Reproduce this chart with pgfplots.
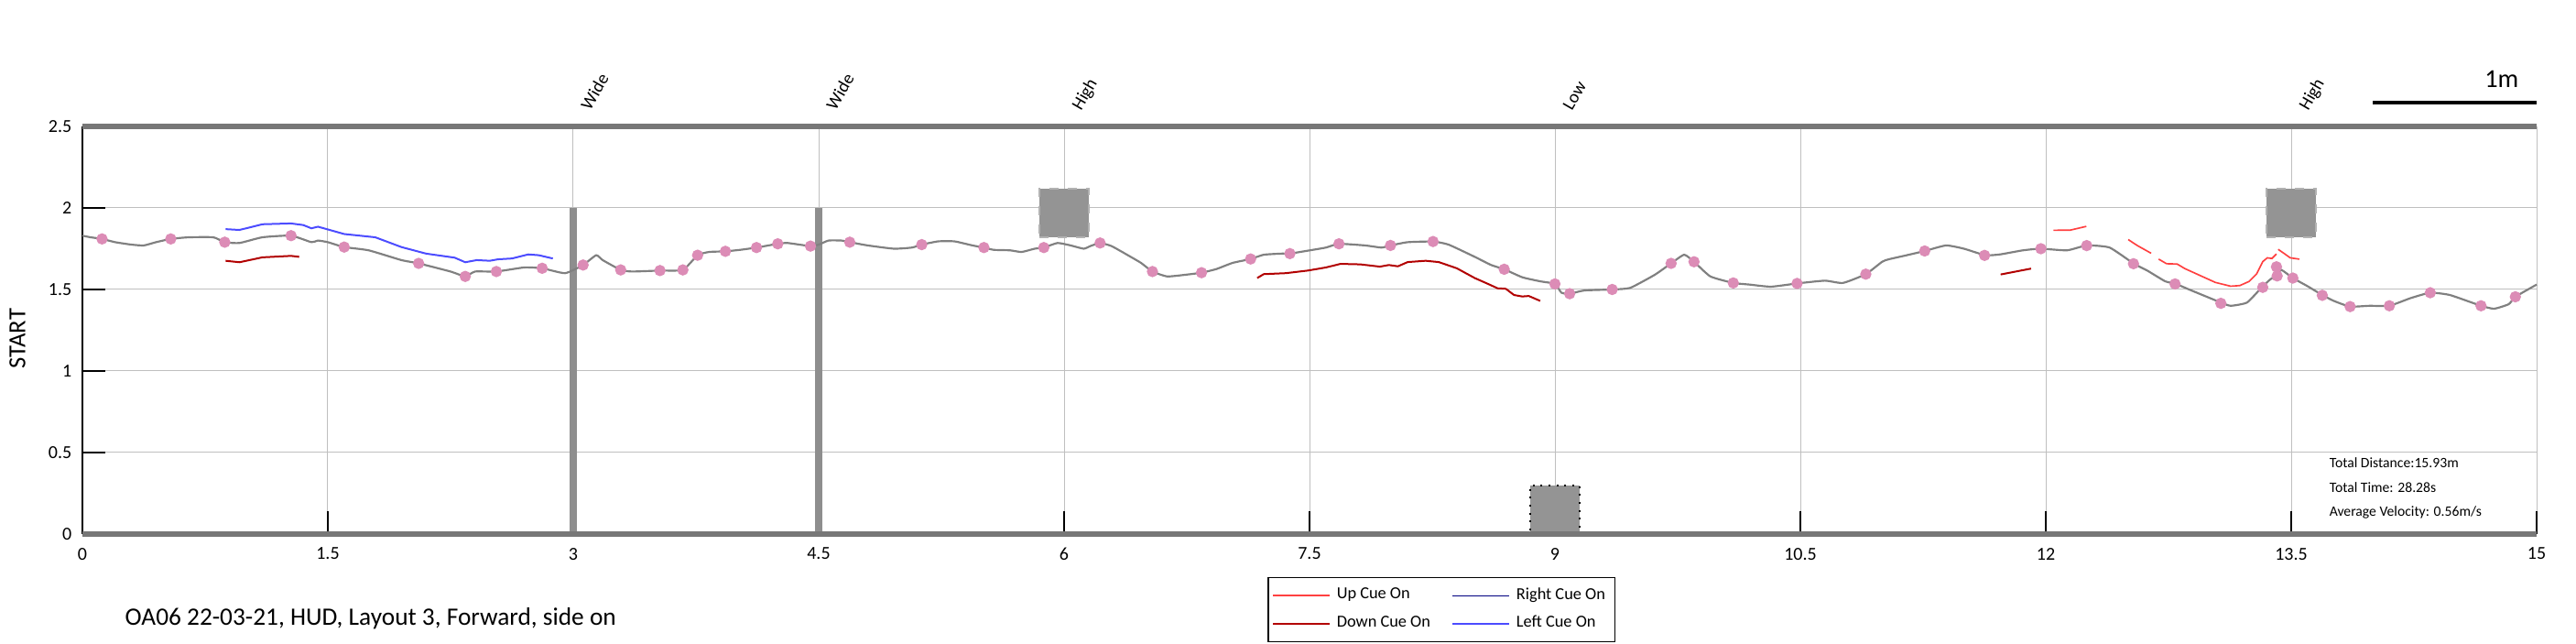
\documentclass[border=0pt]{standalone}
\usepackage{fontspec}
\setmainfont{Carlito}
\usepackage{pgfplots}
\pgfplotsset{compat=1.18}
\definecolor{pathgray}{HTML}{808080}
\definecolor{dotpink}{HTML}{DC8CB6}
\definecolor{leftblue}{HTML}{4C4CFF}
\definecolor{downred}{HTML}{B20000}
\definecolor{upred}{HTML}{FF4040}
\definecolor{frame}{HTML}{777777}
\definecolor{obst}{HTML}{8E8E8E}
\definecolor{box}{HTML}{949494}
\begin{document}
\begin{tikzpicture}
\begin{axis}[
  name=ax,
  scale only axis, width=804pt, height=133.5pt,
  xmin=0, xmax=15, ymin=0, ymax=2.5,
  xtick={0,1.5,3,4.5,6,7.5,9,10.5,12,13.5,15},
  ytick={0,0.5,1,1.5,2,2.5},
  axis lines*=left,
  axis line style={black, line width=0.4pt},
  tick align=inside, major tick length=7.5pt,
  tick style={black, line width=0.4pt},
  grid=major, grid style={black!25, line width=0.3pt},
  /pgf/number format/assume math mode=true,
  tick label style={font=\fontsize{6}{7}\selectfont},
  xticklabel style={yshift=-1pt},
  ylabel={START},
  ylabel style={at={(rel axis cs:0,0.5)}, anchor=center, yshift=21.3pt, xshift=-2.8pt, font=\fontsize{8}{9}\selectfont},
  clip=false,
  legend columns=2,
  legend style={at={(rel axis cs:0.483,0)}, anchor=north west, yshift=-14.1pt,
    font=\fontsize{5.5}{6}\selectfont, draw=black, line width=0.4pt,
    inner sep=1.2pt, row sep=0pt,
    /tikz/every even column/.append style={column sep=5pt}},
  legend cell align=left,
  legend image code/.code={\draw[#1] (0pt,0pt) -- (18.5pt,0pt);},
]
% legend entries
\addlegendimage{upred, line width=0.7pt}
\addlegendentry{Up Cue On}
\addlegendimage{blue!50!black, line width=0.4pt}
\addlegendentry{Right Cue On}
\addlegendimage{downred, line width=0.7pt}
\addlegendentry{Down Cue On}
\addlegendimage{leftblue, line width=0.7pt}
\addlegendentry{Left Cue On}

% obstacles
\addplot[fill=obst, draw=none, forget plot] coordinates {(2.978,0) (3.022,0) (3.022,2) (2.978,2)} -- cycle;
\addplot[fill=obst, draw=none, forget plot] coordinates {(4.478,0) (4.522,0) (4.522,2) (4.478,2)} -- cycle;
\addplot[fill=box, draw=black!30, dashed, line width=0.6pt, forget plot] coordinates {(5.85,1.82) (6.15,1.82) (6.15,2.12) (5.85,2.12)} -- cycle;
\addplot[fill=box, draw=black!30, dashed, line width=0.6pt, forget plot] coordinates {(13.35,1.82) (13.65,1.82) (13.65,2.12) (13.35,2.12)} -- cycle;
\addplot[fill=box, draw=black, dotted, line width=0.6pt, forget plot] coordinates {(8.85,0) (9.15,0) (9.15,0.3) (8.85,0.3)} -- cycle;

% thick frame lines
\addplot[frame, line width=1.8pt, forget plot] coordinates {(0,2.5) (15,2.5)};
\addplot[frame, line width=1.8pt, forget plot] coordinates {(0,0) (15,0)};

% path
\addplot[pathgray, line width=0.65pt, smooth, tension=0.3, forget plot] coordinates {
(0,1.83) (0.05,1.82) (0.12,1.81) (0.2,1.79) (0.3,1.775) (0.375,1.77) (0.45,1.79) (0.54,1.81) (0.65,1.82) (0.8,1.82) (0.87,1.79) (0.96,1.785) (1.1,1.82) (1.275,1.83) (1.4,1.79) (1.44,1.80) (1.5,1.79) (1.6,1.76) (1.75,1.74) (1.95,1.68) (2.055,1.66) (2.25,1.61) (2.34,1.58) (2.4,1.61) (2.53,1.61) (2.7,1.635) (2.81,1.63) (2.95,1.60) (3.06,1.65) (3.14,1.71) (3.18,1.68) (3.29,1.62) (3.36,1.61) (3.53,1.616) (3.67,1.62) (3.76,1.71) (3.83,1.73) (3.93,1.734) (4.02,1.743) (4.12,1.757) (4.25,1.78) (4.31,1.785) (4.45,1.766) (4.5,1.775) (4.56,1.80) (4.64,1.80) (4.69,1.79) (4.8,1.77) (4.96,1.75) (5.07,1.757) (5.13,1.775) (5.23,1.795) (5.33,1.795) (5.44,1.77) (5.51,1.757) (5.57,1.743) (5.67,1.74) (5.74,1.73) (5.82,1.75) (5.876,1.757) (5.96,1.785) (6.04,1.77) (6.12,1.75) (6.16,1.766) (6.22,1.785) (6.29,1.766) (6.39,1.71) (6.47,1.663) (6.54,1.61) (6.63,1.58) (6.74,1.59) (6.84,1.603) (6.93,1.625) (7.03,1.663) (7.14,1.687) (7.22,1.713) (7.33,1.72) (7.38,1.72) (7.49,1.738) (7.6,1.757) (7.68,1.78) (7.84,1.77) (7.94,1.757) (7.995,1.77) (8.1,1.79) (8.255,1.794) (8.35,1.775) (8.51,1.70) (8.61,1.65) (8.69,1.624) (8.8,1.575) (8.91,1.55) (9.0,1.534) (9.04,1.48) (9.09,1.474) (9.18,1.494) (9.35,1.50) (9.46,1.51) (9.61,1.59) (9.71,1.66) (9.79,1.713) (9.85,1.67) (9.95,1.58) (10.09,1.54) (10.19,1.53) (10.32,1.517) (10.48,1.537) (10.65,1.554) (10.76,1.54) (10.9,1.594) (11.0,1.67) (11.04,1.685) (11.15,1.71) (11.26,1.736) (11.39,1.77) (11.5,1.75) (11.63,1.71) (11.72,1.715) (11.86,1.74) (11.97,1.75) (12.13,1.74) (12.25,1.77) (12.39,1.757) (12.54,1.657) (12.62,1.616) (12.73,1.55) (12.79,1.536) (12.89,1.494) (13.07,1.42) (13.13,1.40) (13.23,1.42) (13.32,1.513) (13.37,1.56) (13.41,1.588) (13.44,1.62) (13.51,1.57) (13.6,1.52) (13.69,1.466) (13.76,1.43) (13.86,1.395) (13.98,1.40) (14.1,1.40) (14.23,1.447) (14.35,1.48) (14.47,1.466) (14.66,1.40) (14.74,1.382) (14.83,1.41) (14.87,1.455) (15.0,1.53)
};

% left cue
\addplot[leftblue, line width=0.6pt, forget plot] coordinates {
(0.875,1.87) (0.96,1.865) (1.1,1.90) (1.275,1.905) (1.35,1.895) (1.4,1.875) (1.44,1.885) (1.6,1.84) (1.79,1.82) (1.95,1.76) (2.1,1.72) (2.275,1.695) (2.34,1.667) (2.41,1.68) (2.49,1.676) (2.54,1.685) (2.625,1.69) (2.725,1.715) (2.79,1.71) (2.875,1.69)
};

% down cue
\addplot[downred, line width=0.6pt, forget plot] coordinates {
(0.875,1.676) (0.96,1.667) (1.1,1.697) (1.275,1.706) (1.325,1.70)
};
\addplot[downred, line width=0.6pt, forget plot] coordinates {
(7.18,1.57) (7.22,1.594) (7.355,1.60) (7.49,1.616) (7.6,1.635) (7.69,1.657) (7.81,1.654) (7.93,1.64) (7.985,1.65) (8.04,1.642) (8.1,1.668) (8.21,1.676) (8.29,1.668) (8.4,1.63) (8.51,1.57) (8.6,1.53) (8.65,1.507) (8.7,1.504) (8.75,1.466) (8.8,1.457) (8.84,1.46) (8.91,1.43)
};
\addplot[downred, line width=0.6pt, forget plot] coordinates {
(11.724,1.592) (11.91,1.628)
};

% up cue
\addplot[upred, line width=0.5pt, forget plot] coordinates {
(12.047,1.863) (12.15,1.864) (12.248,1.887)
};
\addplot[upred, line width=0.5pt, forget plot] coordinates {
(12.504,1.806) (12.56,1.769) (12.644,1.722)
};
\addplot[upred, line width=0.5pt, forget plot] coordinates {
(12.69,1.686) (12.738,1.658) (12.803,1.656) (12.85,1.628) (12.962,1.577) (13.037,1.543) (13.13,1.52) (13.186,1.524) (13.242,1.549) (13.289,1.596) (13.326,1.671) (13.354,1.694) (13.382,1.69) (13.41,1.718)
};
\addplot[upred, line width=0.5pt, forget plot] coordinates {
(13.42,1.746) (13.448,1.727) (13.494,1.694) (13.55,1.686)
};

% sample points
\addplot[only marks, mark=*, mark size=1.65pt, mark options={fill=dotpink, draw=dotpink}, forget plot] coordinates {
(0.12,1.81) (0.54,1.81) (0.87,1.79) (1.275,1.83) (1.6,1.76) (2.055,1.66) (2.34,1.58) (2.53,1.61) (2.81,1.63) (3.06,1.65) (3.29,1.62) (3.53,1.616) (3.67,1.62) (3.76,1.71) (3.93,1.734) (4.12,1.757) (4.25,1.78) (4.45,1.766) (4.69,1.79) (5.13,1.775) (5.51,1.757) (5.876,1.757) (6.22,1.785) (6.54,1.61) (6.84,1.603) (7.14,1.687) (7.38,1.72) (7.68,1.78) (7.995,1.77) (8.255,1.794) (8.69,1.624) (9.0,1.534) (9.09,1.474) (9.35,1.50) (9.71,1.66) (9.85,1.67) (10.09,1.54) (10.48,1.537) (10.9,1.594) (11.26,1.736) (11.626,1.709) (11.97,1.75) (12.25,1.769) (12.536,1.658) (12.79,1.534) (13.07,1.415) (13.326,1.513) (13.414,1.583) (13.41,1.639) (13.51,1.57) (13.69,1.464) (13.86,1.395) (14.1,1.40) (14.35,1.48) (14.66,1.40) (14.87,1.455)
};

% scale bar
\addplot[black, line width=1.2pt, forget plot] coordinates {(14,2.646) (15,2.646)};
\node[anchor=base east, font=\fontsize{8.5}{9}\selectfont, inner sep=0pt] at ([xshift=-5.7pt,yshift=12.6pt]axis cs:15,2.5) {1m};

% obstacle labels
\foreach \xx/\lab in {3/Wide,4.5/Wide,6/High,9/Low,13.5/High}{
  \edef\tmp{\noexpand\node[rotate=60, anchor=base west, inner sep=0pt, font=\noexpand\fontsize{5.8}{6}\noexpand\selectfont] at ([xshift=5.5pt,yshift=4.8pt]axis cs:\xx,2.5) {\lab};}
  \tmp
}

% stats
\node[anchor=base west, inner sep=0pt, font=\fontsize{4.7}{5}\selectfont] at ([yshift=21.6pt]axis cs:13.73,0) {Total Distance:15.93m};
\node[anchor=base west, inner sep=0pt, font=\fontsize{4.7}{5}\selectfont] at ([yshift=13.5pt]axis cs:13.73,0) {Total Time: 28.28s};
\node[anchor=base west, inner sep=0pt, font=\fontsize{4.7}{5}\selectfont] at ([yshift=5.7pt]axis cs:13.73,0) {Average Velocity: 0.56m/s};
\end{axis}
\node[anchor=base west, inner sep=0pt, font=\fontsize{8.2}{9}\selectfont] at ([xshift=13.8pt,yshift=-30pt]ax.south west) {OA06 22-03-21, HUD, Layout 3, Forward, side on};
\pgfresetboundingbox
\path[use as bounding box] ([xshift=-27pt,yshift=-36pt]ax.south west) rectangle ([xshift=12.9pt,yshift=41.4pt]ax.north east);
\end{tikzpicture}
\end{document}
